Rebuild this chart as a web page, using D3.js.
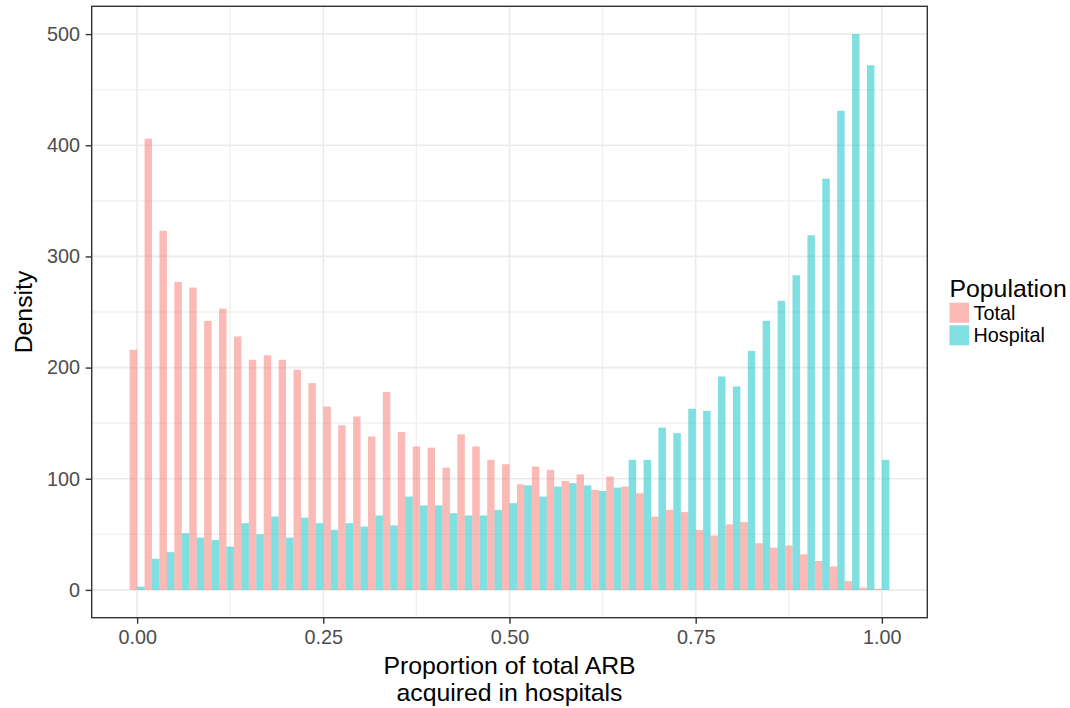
<!DOCTYPE html>
<html lang="en">
<head>
  <meta charset="UTF-8">
  <title>ARB histogram</title>
  <script src="https://cdn.jsdelivr.net/npm/d3@7"></script>
  <style>
    body { margin: 0; background: #fff; }
    text { font-family: "Liberation Sans", Arial, Helvetica, sans-serif; }
  </style>
</head>
<body>
<svg></svg>
<script>
  const width = 1070, height = 708
  const margin = {top: 6.3, right: 142.7, bottom: 90.3, left: 91.7}

  // bin centres (binwidth 0.02)
  const bins = [0.00, 0.02, 0.04, 0.06, 0.08, 0.10, 0.12, 0.14, 0.16, 0.18,
    0.20, 0.22, 0.24, 0.26, 0.28, 0.30, 0.32, 0.34, 0.36, 0.38,
    0.40, 0.42, 0.44, 0.46, 0.48, 0.50, 0.52, 0.54, 0.56, 0.58,
    0.60, 0.62, 0.64, 0.66, 0.68, 0.70, 0.72, 0.74, 0.76, 0.78,
    0.80, 0.82, 0.84, 0.86, 0.88, 0.90, 0.92, 0.94, 0.96, 0.98, 1.00]
  const binWidth = 0.02

  const total = [216, 406, 323, 277, 272, 242, 253, 228, 207, 211,
    207, 198, 186, 165, 148, 156, 138, 178, 142, 129,
    128, 110, 140, 129, 117, 113, 95, 111, 108, 98,
    104, 90, 102, 93, 87, 66, 72, 70, 54, 49,
    59, 61, 42, 38, 40, 32, 26, 21, 8, 2, 1]

  const hospital = [3, 28, 34, 51, 47, 45, 39, 60, 50, 66,
    47, 65, 60, 54, 60, 57, 67, 58, 84, 76,
    76, 69, 67, 67, 72, 78, 94, 84, 93, 96,
    94, 89, 92, 117, 117, 146, 141, 163, 161, 192,
    183, 215, 242, 260, 283, 319, 370, 431, 500, 472, 117]

  const groups = ['Total', 'Hospital']
  const colors = ['#F8766D', '#00BFC4']
  const xTicks = [0, 0.25, 0.5, 0.75, 1]
  const xMinor = [0.125, 0.375, 0.625, 0.875]
  const yTicks = [0, 100, 200, 300, 400, 500]
  const yMinor = [50, 150, 250, 350, 450]

  const data = []
  bins.forEach((b, i) => {
    data.push({group: 'Total', x0: b - binWidth / 2, x1: b, value: total[i]})
    data.push({group: 'Hospital', x0: b, x1: b + binWidth / 2, value: hospital[i]})
  })

  const svg = d3.select('svg')
      .attr('width', width)
      .attr('height', height)
      .attr('viewBox', [0, 0, width, height])

  // ggplot-style 5% expansion
  const lo = bins[0] - binWidth / 2, hi = bins[bins.length - 1] + binWidth / 2
  const pad = (hi - lo) * 0.05
  const x = d3.scaleLinear()
      .domain([lo - pad, hi + pad])
      .range([margin.left, width - margin.right])

  const ymax = d3.max(hospital.concat(total))
  const y = d3.scaleLinear()
      .domain([-ymax * 0.05, ymax * 1.05])
      .range([height - margin.bottom, margin.top])

  const color = d3.scaleOrdinal().domain(groups).range(colors)

  const pTop = margin.top, pBottom = height - margin.bottom
  const pLeft = margin.left, pRight = width - margin.right

  // grid
  const grid = svg.append('g')
  grid.selectAll('.ymin').data(yMinor).join('line')
      .attr('x1', pLeft).attr('x2', pRight)
      .attr('y1', d => y(d)).attr('y2', d => y(d))
      .attr('stroke', '#F0F0F0').attr('stroke-width', 1.4)
  grid.selectAll('.xmin').data(xMinor).join('line')
      .attr('y1', pTop).attr('y2', pBottom)
      .attr('x1', d => x(d)).attr('x2', d => x(d))
      .attr('stroke', '#F0F0F0').attr('stroke-width', 1.4)
  grid.selectAll('.ymaj').data(yTicks).join('line')
      .attr('x1', pLeft).attr('x2', pRight)
      .attr('y1', d => y(d)).attr('y2', d => y(d))
      .attr('stroke', '#EBEBEB').attr('stroke-width', 1.6)
  grid.selectAll('.xmaj').data(xTicks).join('line')
      .attr('y1', pTop).attr('y2', pBottom)
      .attr('x1', d => x(d)).attr('x2', d => x(d))
      .attr('stroke', '#EBEBEB').attr('stroke-width', 1.6)

  // bars
  svg.append('g')
    .selectAll('rect')
    .data(data)
    .join('rect')
      .attr('x', d => x(d.x0))
      .attr('width', d => x(d.x1) - x(d.x0))
      .attr('y', d => y(d.value))
      .attr('height', d => y(0) - y(d.value))
      .attr('fill', d => color(d.group))
      .attr('fill-opacity', 0.5)

  // panel border
  svg.append('rect')
      .attr('x', pLeft).attr('y', pTop)
      .attr('width', pRight - pLeft).attr('height', pBottom - pTop)
      .attr('fill', 'none')
      .attr('stroke', '#333333')
      .attr('stroke-width', 1.4)

  // axes
  const yAxis = svg.append('g')
      .attr('transform', `translate(${pLeft},0)`)
      .call(d3.axisLeft(y).tickValues(yTicks).tickSize(6).tickSizeOuter(0).tickPadding(5.7))
  const xAxis = svg.append('g')
      .attr('transform', `translate(0,${pBottom})`)
      .call(d3.axisBottom(x).tickValues(xTicks).tickFormat(d3.format('.2f')).tickSize(6).tickSizeOuter(0).tickPadding(6))

  for (const ax of [xAxis, yAxis]) {
    ax.select('.domain').remove()
    ax.selectAll('.tick line').attr('stroke', '#333333').attr('stroke-width', 1.4)
    ax.selectAll('.tick text')
        .attr('fill', '#4D4D4D')
        .style('font-size', '19.8px')
  }

  // axis titles
  const xTitle = svg.append('text')
      .attr('x', (pLeft + pRight) / 2)
      .attr('y', 674)
      .attr('text-anchor', 'middle')
      .style('font-size', '24.8px')
      .attr('fill', '#000')
  xTitle.append('tspan').attr('x', (pLeft + pRight) / 2).text('Proportion of total ARB')
  xTitle.append('tspan').attr('x', (pLeft + pRight) / 2).attr('dy', 26.5).text('acquired in hospitals')

  svg.append('text')
      .attr('transform', `translate(31.5,${(pTop + pBottom) / 2}) rotate(-90)`)
      .attr('text-anchor', 'middle')
      .style('font-size', '24.8px')
      .attr('fill', '#000')
      .text('Density')

  // legend
  const legend = svg.append('g').attr('transform', 'translate(949.5,0)')
  legend.append('text')
      .attr('x', 0).attr('y', 296.7)
      .style('font-size', '24.8px')
      .text('Population')
  const keys = legend.selectAll('.key').data(groups).join('g')
      .attr('transform', (d, i) => `translate(0,${302.7 + i * 22.6})`)
  keys.append('rect')
      .attr('width', 19.5).attr('height', 20)
      .attr('fill', d => color(d))
      .attr('fill-opacity', 0.5)
  keys.append('text')
      .attr('x', 24).attr('y', 16.8)
      .style('font-size', '19.8px')
      .text(d => d)
</script>
</body>
</html>
